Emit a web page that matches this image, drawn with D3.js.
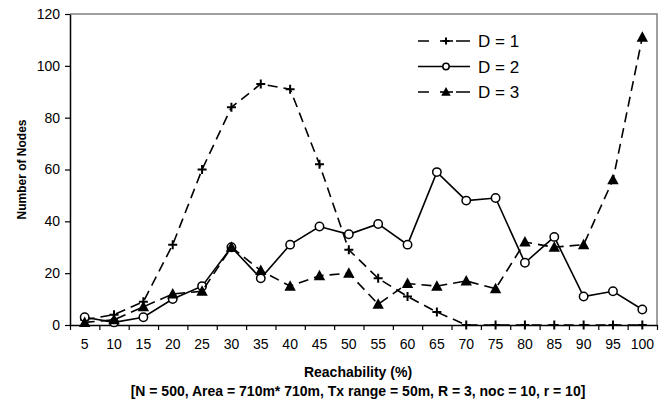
<!DOCTYPE html>
<html>
<head>
<meta charset="utf-8">
<script src="https://cdn.jsdelivr.net/npm/d3@7"></script>
<style>
  html, body { margin: 0; padding: 0; background: #fff; }
  svg { display: block; font-family: "Liberation Sans", Arial, sans-serif; }
</style>
</head>
<body>
<svg id="chart" width="670" height="402"></svg>
<script>
// Reachability buckets (%)
const categories = ["5","10","15","20","25","30","35","40","45","50","55","60","65","70","75","80","85","90","95","100"];
// Number of nodes per bucket for each D
const d1Values = [2, 4, 9, 31, 60, 84, 93, 91, 62, 29, 18, 11, 5, 0, 0, 0, 0, 0, 0, 0];
const d2Values = [3, 1, 3, 10, 15, 30, 18, 31, 38, 35, 39, 31, 59, 48, 49, 24, 34, 11, 13, 6];
const d3Values = [1, 2, 7, 12, 13, 30, 21, 15, 19, 20, 8, 16, 15, 17, 14, 32, 30, 31, 56, 111];
const yTicks = [0, 20, 40, 60, 80, 100, 120];
const seriesNames = ["D = 1", "D = 2", "D = 3"];

const svg = d3.select("#chart");
const plotLeft = 70, plotRight = 657, plotTop = 14, plotBottom = 325;

const x = d3.scaleBand().domain(categories).range([plotLeft, plotRight]).paddingInner(0).paddingOuter(0);
const y = d3.scaleLinear().domain([0, 120]).range([plotBottom, plotTop]);
const edge = d3.scaleLinear().domain([0, categories.length]).range([plotLeft, plotRight]);
const cx = c => x(c) + x.bandwidth() / 2;

// plot frame (top and right)
svg.append("path")
  .attr("d", `M${plotLeft},${plotTop}H${plotRight}V${plotBottom}`)
  .attr("fill", "none").attr("stroke", "#808080").attr("stroke-width", 1.5);

// y axis
const yAxis = svg.append("g").attr("transform", `translate(${plotLeft},0)`)
  .call(d3.axisLeft(y).tickValues(yTicks).tickSizeInner(5).tickSizeOuter(0).tickPadding(5));
yAxis.select(".domain").attr("stroke", "#000").attr("stroke-width", 1.5);
yAxis.selectAll(".tick line").attr("stroke", "#000").attr("stroke-width", 1.2);
yAxis.selectAll("text").attr("font-size", 14).attr("fill", "#000");

// x axis: ticks between categories, labels centred
const xEdges = svg.append("g").attr("transform", `translate(0,${plotBottom})`)
  .call(d3.axisBottom(edge).tickValues(d3.range(0, categories.length + 1)).tickFormat("").tickSizeInner(5).tickSizeOuter(0));
xEdges.select(".domain").attr("stroke", "#000").attr("stroke-width", 1.5);
xEdges.selectAll(".tick line").attr("stroke", "#000").attr("stroke-width", 1.2);

const xLabels = svg.append("g").attr("transform", `translate(0,${plotBottom})`)
  .call(d3.axisBottom(x).tickSize(0).tickPadding(14));
xLabels.select(".domain").remove();
xLabels.selectAll("text").attr("font-size", 14).attr("fill", "#000");

// axis titles
svg.append("text").attr("x", 358).attr("y", 377).attr("text-anchor", "middle")
  .attr("font-size", 14).attr("font-weight", "bold").text("Reachability (%)");
svg.append("text").attr("x", 358).attr("y", 396).attr("text-anchor", "middle")
  .attr("font-size", 14).attr("font-weight", "bold")
  .text("[N = 500, Area = 710m* 710m, Tx range = 50m, R = 3, noc = 10, r = 10]");
svg.append("text").attr("transform", `translate(26,${(plotTop + plotBottom) / 2}) rotate(-90)`)
  .attr("text-anchor", "middle").attr("font-size", 12).attr("font-weight", "bold")
  .text("Number of Nodes");

const line = d3.line().x((d, i) => cx(categories[i])).y(d => y(d));

// markers
function plus(g, px, py, s) {
  g.append("path").attr("d", `M${px - s},${py}H${px + s}M${px},${py - s}V${py + s}`)
    .attr("stroke", "#000").attr("stroke-width", 2).attr("fill", "none");
}
function circle(g, px, py, r) {
  g.append("circle").attr("cx", px).attr("cy", py).attr("r", r)
    .attr("fill", "#fff").attr("stroke", "#000").attr("stroke-width", 1.5);
}
function triangle(g, px, py, s) {
  g.append("path").attr("d", `M${px},${py - s}L${px + s * 0.95},${py + s * 0.75}L${px - s * 0.95},${py + s * 0.75}Z`)
    .attr("fill", "#000");
}

const series = [
  { values: d1Values, dash: "10,6", marker: (g, px, py) => plus(g, px, py, 4.5) },
  { values: d2Values, dash: null, marker: (g, px, py) => circle(g, px, py, 4.2) },
  { values: d3Values, dash: "10,6", marker: (g, px, py) => triangle(g, px, py, 6) }
];

series.forEach(s => {
  const g = svg.append("g");
  g.append("path").attr("d", line(s.values)).attr("fill", "none")
    .attr("stroke", "#000").attr("stroke-width", 1.6)
    .attr("stroke-dasharray", s.dash);
  s.values.forEach((v, i) => s.marker(g, cx(categories[i]), y(v)));
});

// legend
const legend = svg.append("g");
series.forEach((s, i) => {
  const ly = 41 + i * 25.5;
  const g = legend.append("g");
  if (s.dash) {
    g.append("path").attr("d", `M418,${ly}H429M456,${ly}H470`).attr("stroke", "#000").attr("stroke-width", 1.6);
    g.append("path").attr("d", `M440,${ly}H453`).attr("stroke", "#000").attr("stroke-width", 1.6);
  } else {
    g.append("path").attr("d", `M418,${ly}H470`).attr("stroke", "#000").attr("stroke-width", 1.6);
  }
  if (i === 0) plus(g, 446, ly, 3.5);
  else if (i === 1) circle(g, 446, ly, 3.2);
  else triangle(g, 446, ly, 5);
  g.append("text").attr("x", 478).attr("y", ly).attr("dy", "0.36em")
    .attr("font-size", 17).text(seriesNames[i]);
});
</script>
</body>
</html>
